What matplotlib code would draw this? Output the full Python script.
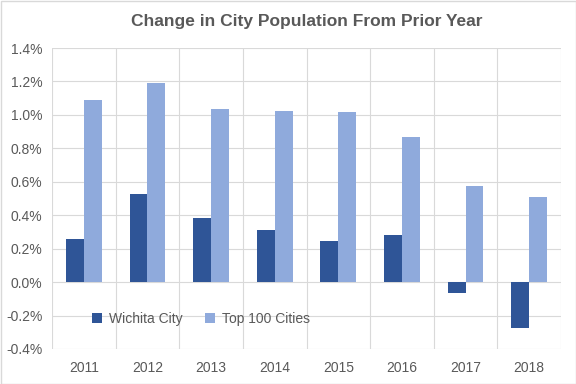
import matplotlib.pyplot as plt
import numpy as np
from matplotlib.ticker import FuncFormatter, MultipleLocator

years = ['2011', '2012', '2013', '2014', '2015', '2016', '2017', '2018']
wichita = [0.257, 0.527, 0.381, 0.311, 0.244, 0.281, -0.064, -0.274]
top100 = [1.09, 1.19, 1.036, 1.024, 1.018, 0.868, 0.575, 0.509]

plt.rcParams['font.family'] = ['Liberation Sans Narrow', 'Liberation Sans', 'DejaVu Sans']

fig = plt.figure(figsize=(5.76, 3.84), dpi=100)
ax = fig.add_axes([52 / 576, 1 - 349 / 384, (561 - 52) / 576, (349 - 48) / 384])

x = np.arange(len(years))
w = 0.28
ax.bar(x - w / 2, wichita, w, color='#2F5597', label='Wichita City', zorder=3)
ax.bar(x + w / 2, top100, w, color='#8FAADC', label='Top 100 Cities', zorder=3)

ax.set_xlim(-0.5, len(years) - 0.5)
ax.set_ylim(-0.4, 1.4)
ax.yaxis.set_major_locator(MultipleLocator(0.2))
ax.yaxis.set_major_formatter(FuncFormatter(lambda v, p: f'{v:.1f}%'))
ax.set_xticks(x)
ax.set_xticklabels(years)
ax.set_xticks(np.arange(len(years) + 1) - 0.5, minor=True)

ax.grid(axis='y', color='#D9D9D9', linewidth=0.8, zorder=0)
ax.grid(axis='x', which='minor', color='#D9D9D9', linewidth=0.8, zorder=0)
ax.tick_params(axis='both', which='both', length=0, colors='#595959', labelsize=10)
ax.tick_params(axis='x', pad=9)
ax.tick_params(axis='y', pad=7)
for s in ax.spines.values():
    s.set_visible(False)

ax.set_title('Change in City Population From Prior Year', fontsize=12.5, fontweight='bold',
             color='#595959', pad=16)

ax.legend(loc='center left', bbox_to_anchor=(0.055, 0.1), ncol=2, frameon=False,
          fontsize=10, labelcolor='#595959', handlelength=0.7, handleheight=0.7,
          columnspacing=1.6, handletextpad=0.5)

fig.patches.append(plt.Rectangle((0.5 / 576, 0.5 / 384), 1 - 1 / 576, 1 - 1 / 384,
                                 transform=fig.transFigure, fill=False,
                                 edgecolor='#D9D9D9', linewidth=1))

fig.savefig('out.png', dpi=100)
